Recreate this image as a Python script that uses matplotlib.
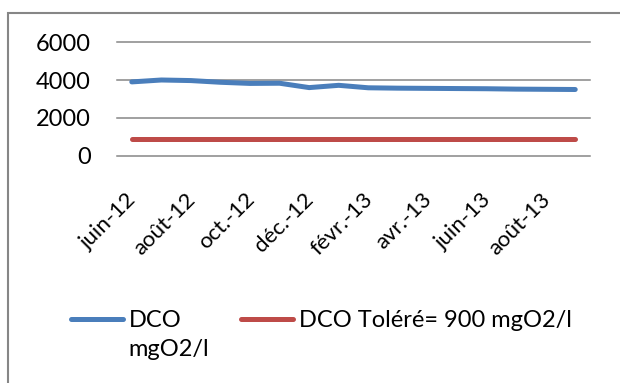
import matplotlib
matplotlib.use("Agg")
import matplotlib.pyplot as plt
from matplotlib.patches import Rectangle

plt.rcParams['font.family'] = ['Lato', 'DejaVu Sans']

# mois de mesure (un point par mois)
mois = ["juin-12", "juil.-12", "août-12", "sept.-12", "oct.-12", "nov.-12",
        "déc.-12", "janv.-13", "févr.-13", "mars-13", "avr.-13", "mai-13",
        "juin-13", "juil.-13", "août-13", "sept.-13"]
dco = [3900, 4000, 3970, 3880, 3820, 3830, 3600, 3720,
       3590, 3570, 3560, 3550, 3540, 3520, 3510, 3500]
dco_tolere = [900, 900, 900, 900, 900, 900, 900, 900,
              900, 900, 900, 900, 900, 900, 900, 900]
y_ticks = [0, 2000, 4000, 6000]

bleu = "#4A7EBB"
rouge = "#BE4B48"
gris = "#868686"

W, H = 620, 383
fig = plt.figure(figsize=(W / 100, H / 100), dpi=100)
ax = fig.add_axes([117 / W, 1 - 156 / H, (590 - 117) / W, (156 - 42) / H])

# cadre du graphique
fig.add_artist(Rectangle((8 / W, -0.1), 1.2, 1 - 13 / H + 0.1,
                         transform=fig.transFigure, fill=False,
                         ec=gris, lw=1.5))

x = list(range(len(mois)))
l1, = ax.plot(x, dco, color=bleu, lw=3.6, solid_capstyle='round',
              solid_joinstyle='round', zorder=3)
l2, = ax.plot(x, dco_tolere, color=rouge, lw=3.6, solid_capstyle='round',
              zorder=3)

ax.set_xlim(-0.5, len(mois) - 0.5)
ax.set_ylim(0, 6000)
ax.set_yticks(y_ticks)
ax.set_yticklabels([str(v) for v in y_ticks])
ax.set_xticks(x[::2])
ax.set_xticklabels(mois[::2], rotation=45, ha='right', va='center_baseline',
                   rotation_mode='anchor')

ax.grid(axis='y', color=gris, lw=1.1)
for g in ax.get_ygridlines():
    g.set_clip_on(False)
ax.set_axisbelow(True)
for s in ax.spines.values():
    s.set_visible(False)
ax.tick_params(axis='y', length=0, pad=19, labelsize=17)
ax.tick_params(axis='x', length=0, pad=28, labelsize=16)

leg = ax.legend([l1, l2], ["DCO\nmgO2/l", "DCO Toléré= 900 mgO2/l"],
                loc='upper left', bbox_to_anchor=(71 / W, 1 - 310 / H),
                bbox_transform=fig.transFigure, ncol=2, frameon=False,
                fontsize=17, handlelength=2.2, handleheight=1.0,
                handletextpad=0.25, columnspacing=1.35, borderpad=0,
                borderaxespad=0)
leg.get_texts()[0].set_linespacing(1.45)
# aligner les traits et les colonnes sur la premiere ligne du libelle
leg._legend_handle_box.align = 'top'
for col in leg._legend_handle_box.get_children():
    for item in col.get_children():
        item.align = 'top'

fig.savefig("out.png", dpi=100)
